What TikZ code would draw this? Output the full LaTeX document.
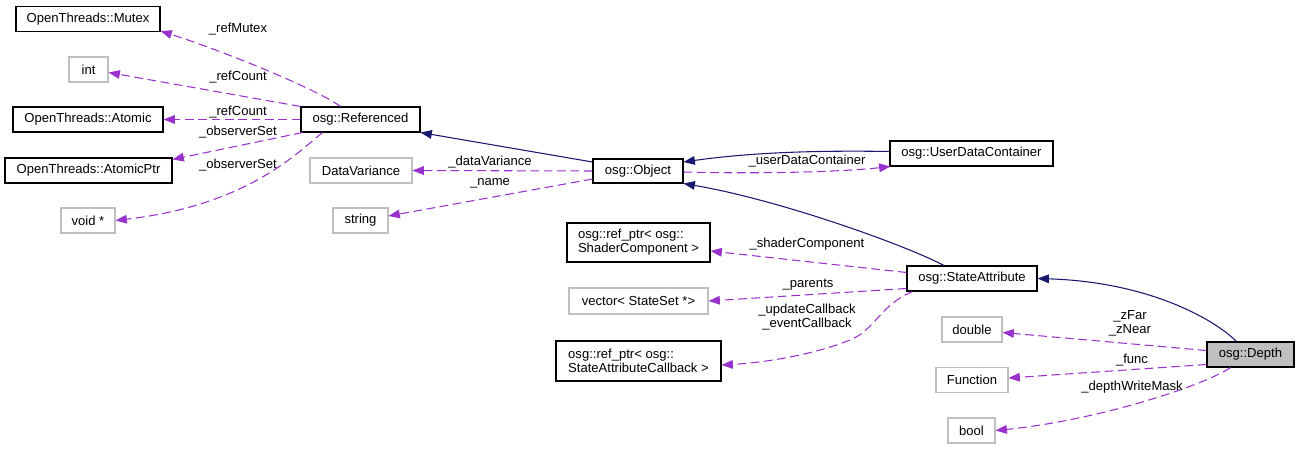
\documentclass[tikz,border=0pt]{standalone}
\usepackage{fontspec}
\setmainfont{Liberation Sans}
\usetikzlibrary{arrows.meta,calc}
\definecolor{navy}{RGB}{25,25,112}
\definecolor{orch}{RGB}{153,50,204}
\definecolor{lgray}{RGB}{191,191,191}
\begin{document}
\begin{tikzpicture}[x=0.75pt,y=-0.75pt,
 font=\fontsize{9.8}{10.5}\selectfont,
 box/.style={draw=black, line width=0.8pt, inner sep=0pt, minimum height=18.75pt, align=left},
 ext/.style={draw=lgray, line width=0.8pt, inner sep=0pt, minimum height=18.75pt, align=left},
 w/.style={minimum width=#1*0.75pt},
 h/.style={minimum height=#1*0.75pt},
 inh/.style={draw=navy, line width=0.8pt, -{Triangle[length=8.5pt,width=6.5pt]}},
 mem/.style={draw=orch, line width=0.8pt, dash pattern=on 6.5pt off 3.5pt, -{Triangle[length=8.5pt,width=6.5pt]}},
 lbl/.style={inner sep=0pt, align=center}
]
\useasboundingbox (0,0) rectangle (1300,449);

% nodes
\node[box,w=144] (mutex) at (88,19) {OpenThreads::Mutex};
\node[ext,w=39] (int) at (88.5,69.5) {int};
\node[box,w=150] (atomic) at (88,119.5) {OpenThreads::Atomic};
\node[box,w=167] (aptr) at (88.5,170.5) {OpenThreads::AtomicPtr};
\node[ext,w=54] (voidp) at (88,220.5) {void *};
\node[box,w=119] (ref) at (360.5,119.5) {osg::Referenced};
\node[ext,w=102] (dv) at (361,170.5) {DataVariance};
\node[ext,w=55] (str) at (360.5,220.5) {string};
\node[box,w=90,h=24] (obj) at (638,171) {osg::Object};
\node[box,w=163] (udc) at (971.5,153.5) {osg::UserDataContainer};
\node[box,w=143,h=39] (shader) at (638.5,242.5) {osg::ref\_ptr< osg::\\ShaderComponent >};
\node[ext,w=139,h=26] (vec) at (638.5,301) {vector< StateSet *>};
\node[box,w=165,h=40] (cb) at (638.5,361) {osg::ref\_ptr< osg::\\StateAttributeCallback >};
\node[box,w=130] (sa) at (972,278.5) {osg::StateAttribute};
\node[ext,w=60] (dbl) at (972,329.5) {double};
\node[ext,w=72] (func) at (972,380) {Function};
\node[ext,w=47] (bool) at (971.5,430.5) {bool};
\node[box,w=87,fill=lgray] (depth) at (1250.5,354.5) {osg::Depth};

% connectors
\draw[mem] ($(ref.north)+(-20,0)$) .. controls (315,88) and (220,50) .. ($(mutex.south east)+(0,-1)$);
\draw[mem] (ref.north west) -- ($(int.east)+(0,3)$);
\draw[mem] (ref.west) -- (atomic.east);
\draw[mem] ($(ref.south west)+(2,0)$) -- ($(aptr.north east)+(0,2)$);
\draw[mem] ($(ref.south)+(-38,0)$) .. controls (300,150) and (250,205) .. (voidp.east);
\draw[inh] ($(obj.west)+(0,-9)$) -- (ref.south east);
\draw[mem] (obj.west) -- (dv.east);
\draw[mem] ($(obj.west)+(0,8)$) -- ($(str.east)+(0,-4.5)$);
\draw[inh] ($(udc.west)+(0,-2)$) .. controls (800,150) and (740,154) .. ($(obj.east)+(0,-9)$);
\draw[mem] ($(obj.east)+(0,1)$) .. controls (760,174) and (840,172) .. ($(udc.south west)+(1,0)$);
\draw[inh] ($(sa.north)+(-28,0)$) .. controls (905,245) and (780,200) .. (obj.south east);
\draw[mem] ($(sa.west)+(0,-6)$) -- ($(shader.east)+(0,8.5)$);
\draw[mem] ($(sa.west)+(0,10)$) -- (vec.east);
\draw[mem] ($(sa.south west)+(6,0)$) .. controls (880,305) and (875,330) .. (850,340) .. controls (810,356) and (760,363) .. ($(cb.east)+(0,4)$);
\draw[inh] ($(depth.north)+(-14,0)$) .. controls (1215,320) and (1150,282) .. (sa.east);
\draw[mem] ($(depth.west)+(0,-4)$) -- ($(dbl.east)+(0,3)$);
\draw[mem] ($(depth.west)+(0,10)$) -- ($(func.east)+(0,-2)$);
\draw[mem] ($(depth.south)+(-20,0)$) .. controls (1205,385) and (1100,420) .. (bool.east);

% labels
\node[lbl] (l1) at (238,29) {\_refMutex};
\node[lbl] (l2) at (238,77) {\_refCount};
\node[lbl] (l3) at (238,112) {\_refCount};
\node[lbl] (l4) at (238,132) {\_observerSet};
\node[lbl] (l5) at (238,165) {\_observerSet};
\node[lbl] (l6) at (490,162) {\_dataVariance};
\node[lbl] (l7) at (490,183) {\_name};
\node[lbl] (l8) at (807,161) {\_userDataContainer};
\node[lbl] (l9) at (807,244) {\_shaderComponent};
\node[lbl] (l10) at (808,285) {\_parents};
\node[lbl] (l11) at (807,317) {\_updateCallback\\\_eventCallback};
\node[lbl] (l12) at (1130,323) {\_zFar\\\_zNear};
\node[lbl] (l13) at (1132,360) {\_func};
\node[lbl] (l14) at (1132,387) {\_depthWriteMask};
\end{tikzpicture}
\end{document}
